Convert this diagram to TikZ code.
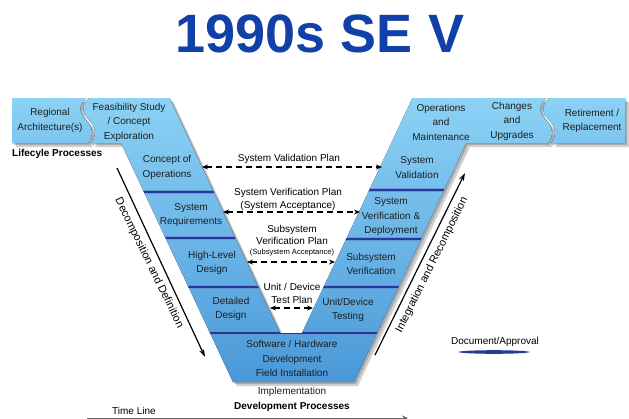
\documentclass[tikz,border=0pt]{standalone}
\usepackage{fontspec}
\setmainfont{Liberation Sans}
\usetikzlibrary{arrows.meta}
\definecolor{titleblue}{HTML}{1040A8}
\definecolor{bandtop}{HTML}{8CD2F5}
\definecolor{bandbot}{HTML}{4A98D8}
\definecolor{sepcol}{HTML}{28379A}
\definecolor{txt}{HTML}{1E1E1E}
\tikzset{
 band/.style={top color=bandtop, bottom color=bandbot, draw=none},
 banner/.style={top color=bandtop, bottom color=bandtop!78!bandbot, draw=none},
 shade1/.style={fill=black, opacity=0.18},
 lbl/.style={font=\fontsize{10}{14.5}\selectfont, align=center, text=txt, inner sep=0pt},
 mid/.style={font=\fontsize{10}{12.5}\selectfont, align=center, inner sep=0pt},
 side/.style={font=\fontsize{11}{13}\selectfont, inner sep=0pt},
 small/.style={font=\fontsize{7.6}{9}\selectfont, align=center, inner sep=0pt},
 boldlbl/.style={font=\fontsize{10}{12}\bfseries\selectfont, inner sep=0pt},
 plan/.style={dash pattern=on 6pt off 4pt, line width=1.1pt, {Stealth[length=6pt,width=5pt]}-{Stealth[length=6pt,width=5pt]}},
 flow/.style={line width=1.2pt, -{Stealth[length=8pt,width=5pt]}},
 sepline/.style={draw=sepcol, line width=2.6pt},
 sephalo/.style={draw=sepcol!40!bandtop, line width=4.6pt, opacity=0.8},
 sepfill/.style={fill=sepcol},
}
\newcommand\vshape{(89,98) -- (169.5,98) -- (280,333) -- (302,333) -- (412.5,98) -- (546,98) .. controls (538,106) and (539,113) .. (546,120) .. controls (553,127) and (554,136) .. (548,143) -- (466,143) -- (354,382) -- (233,382) -- (121,143) -- (91,143) .. controls (97,136) and (96,127) .. (89,120) .. controls (82,113) and (81,106) .. (89,98) -- cycle}
\newcommand\regshape{(12,98) -- (86,98) .. controls (78,106) and (79,113) .. (86,120) .. controls (93,127) and (94,136) .. (88,143) -- (12,143) -- cycle}
\newcommand\retshape{(549,98) -- (625,98) -- (625,143) -- (551,143) .. controls (557,136) and (556,127) .. (549,120) .. controls (542,113) and (541,106) .. (549,98) -- cycle}
\newcommand\sepat[3]{%
  \draw[sephalo] (#1,#3) -- (#2,#3);
  \draw[sepline] (#1,#3) -- (#2,#3);}
\begin{document}
\begin{tikzpicture}[x=1pt,y=-1pt]
\useasboundingbox[fill=white] (0,0) rectangle (629,418);
% title
\node[font=\fontsize{54}{60}\bfseries\selectfont, text=titleblue, inner sep=0pt] (title) at (320,33.5) {1990s SE V};
% shadows
\foreach \s in {2,4} {
  \fill[shade1, shift={(\s,\s)}] \vshape;
  \fill[shade1, shift={(\s,\s)}] \regshape;
  \fill[shade1, shift={(\s,\s)}] \retshape;
}
% shapes
\fill[band] \vshape;
\fill[banner] \regshape;
\fill[banner] \retshape;
% separators, clipped to the V
\begin{scope}
\clip \vshape;
\sepat{130}{215}{192}
\sepat{150}{235}{238}
\sepat{175}{260}{287}
\sepat{355}{460}{190}
\sepat{330}{435}{239}
\sepat{310}{410}{287}
\sepat{195}{390}{333}
\end{scope}
% banner labels
\node[lbl] (reg) at (50,120.5) {Regional\\Architecture(s)};
\node[lbl] (feas) at (129,122) {Feasibility Study\\/ Concept\\Exploration};
\node[boldlbl, anchor=west] (life) at (12,154) {Lifecyle Processes};
\node[lbl] (ops) at (441,122) {Operations\\and\\Maintenance};
\node[lbl] (chg) at (512,121) {Changes\\and\\Upgrades};
\node[lbl] (ret) at (592,121) {Retirement /\\Replacement};
% left arm
\node[lbl] (conops) at (167,167.5) {Concept of\\Operations};
\node[lbl] (sysreq) at (191,215) {System\\Requirements};
\node[lbl] (hld) at (212,263) {High-Level\\Design};
\node[lbl] (dd) at (231,309) {Detailed\\Design};
% bottom
\node[lbl] (sw) at (292,358.5) {Software / Hardware\\Development\\Field Installation};
\node[lbl] (impl) at (292,392) {Implementation};
\node[boldlbl] (devp) at (292,407) {Development Processes};
% right arm
\node[lbl] (sval) at (417,167.5) {System\\Validation};
\node[lbl] (sver) at (391,217) {System\\Verification \&\\Deployment};
\node[lbl] (ssver) at (371,264) {Subsystem\\Verification};
\node[lbl] (udt) at (348,310) {Unit/Device\\Testing};
% plan labels
\node[mid] (svp) at (289,159) {System Validation Plan};
\node[mid] (sverp) at (288,199.5) {System Verification Plan\\(System Acceptance)};
\node[mid] (ssvp) at (292,235) {Subsystem\\Verification Plan};
\node[small] (ssacc) at (292,253) {(Subsystem Acceptance)};
\node[mid] (udtp) at (292,293.5) {Unit / Device\\Test Plan};
% plan arrows
\coordinate (a1l) at (202,167); \coordinate (a1r) at (382,167);
\coordinate (a2l) at (223,212); \coordinate (a2r) at (360,212);
\coordinate (a3l) at (247,262); \coordinate (a3r) at (335,262);
\coordinate (a4l) at (270,308); \coordinate (a4r) at (313,308);
\draw[plan] (a1l) -- (a1r);
\draw[plan] (a2l) -- (a2r);
\draw[plan] (a3l) -- (a3r);
\draw[plan] (a4l) -- (a4r);
% side arrows
\coordinate (d0) at (117,168); \coordinate (d1) at (205,357);
\draw[flow] (d0) -- (d1);
\node[side, rotate=-64] (decomp) at (149,263) {Decomposition and Definition};
\coordinate (i0) at (375,355); \coordinate (i1) at (465,173);
\draw[flow] (i0) -- (i1);
\node[side, rotate=63.7] (integ) at (432,265) {Integration and Recomposition};
% legend
\node[mid] (doc) at (495,342) {Document/Approval};
\fill[sepfill] (458,352) .. controls (464,349.6) and (524,349.6) .. (530,352) .. controls (524,354.4) and (464,354.4) .. cycle;
% time line
\node[mid, anchor=west] (tl) at (112,411) {Time Line};
\coordinate (t0) at (87,418); \coordinate (t1) at (408,418);
\draw[black!60, line width=0.8pt, -{Stealth[length=6pt,width=5pt]}] (t0) -- (t1);
\end{tikzpicture}
\end{document}
